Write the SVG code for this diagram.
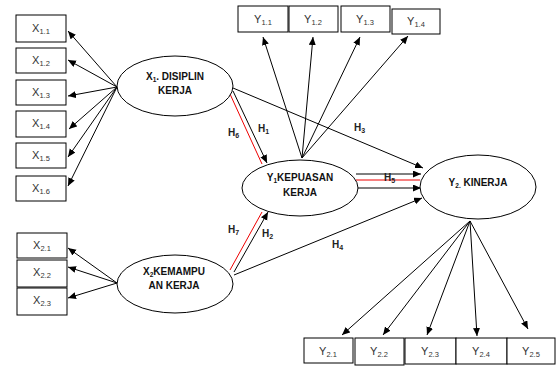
<svg xmlns="http://www.w3.org/2000/svg" width="556" height="366" viewBox="0 0 556 366">
<defs>
<marker id="ah" markerUnits="userSpaceOnUse" markerWidth="9" markerHeight="8" refX="8" refY="3.5" orient="auto">
<path d="M0,0 L8,3.5 L0,7 z" fill="#000"/>
</marker>
<style>
.box{fill:#fff;stroke:#000;stroke-width:1}
.ell{fill:#fff;stroke:#000;stroke-width:1}
.bt{font-family:"Liberation Sans",Arial,sans-serif;font-size:11px;fill:#333;text-anchor:middle}
.et{font-family:"Liberation Sans",Arial,sans-serif;font-size:10px;font-weight:bold;fill:#111;text-anchor:middle}
.ht{font-family:"Liberation Sans",Arial,sans-serif;font-size:10px;font-weight:bold;fill:#222}
.ln{stroke:#000;stroke-width:1;fill:none}
.arr{stroke:#000;stroke-width:1;fill:none;marker-end:url(#ah)}
.red{stroke:#e00;stroke-width:1;fill:none}
</style>
</defs>
<rect width="556" height="366" fill="#fff"/>

<g id="connectors">
<line class="arr" x1="117" y1="87" x2="68" y2="31"/>
<line class="arr" x1="117" y1="87" x2="68" y2="60"/>
<line class="arr" x1="117" y1="87" x2="68" y2="96"/>
<line class="arr" x1="117" y1="87" x2="69" y2="129"/>
<line class="arr" x1="117" y1="87" x2="68" y2="157"/>
<line class="arr" x1="117" y1="87" x2="68" y2="186"/>
<line class="arr" x1="117" y1="283" x2="68" y2="248"/>
<line class="arr" x1="117" y1="283" x2="68" y2="267"/>
<line class="arr" x1="117" y1="283" x2="68" y2="298"/>
<line class="arr" x1="302" y1="158" x2="263" y2="37"/>
<line class="arr" x1="302" y1="158" x2="313" y2="37"/>
<line class="arr" x1="302" y1="158" x2="360" y2="37"/>
<line class="arr" x1="302" y1="158" x2="408" y2="36"/>
<line class="arr" x1="470" y1="221" x2="342" y2="335"/>
<line class="arr" x1="470" y1="221" x2="383" y2="335"/>
<line class="arr" x1="470" y1="221" x2="427" y2="335"/>
<line class="arr" x1="470" y1="221" x2="477" y2="336"/>
<line class="arr" x1="470" y1="221" x2="528" y2="329"/>
<line class="red" x1="230" y1="94" x2="262" y2="164"/>
<line class="arr" x1="233" y1="91" x2="267" y2="163"/>
<line class="arr" x1="233" y1="88" x2="423" y2="168"/>
<line class="arr" x1="356" y1="174" x2="421" y2="174"/>
<line class="red" x1="356" y1="180" x2="420" y2="180"/>
<line class="arr" x1="356" y1="188" x2="421" y2="188"/>
<line class="red" x1="230" y1="270" x2="262" y2="212"/>
<line class="arr" x1="234" y1="272" x2="268" y2="212"/>
<line class="arr" x1="234" y1="275" x2="422" y2="198"/>
</g>

<g id="hypothesis-labels">
<text class="ht" x="258" y="132">H<tspan font-size="7" dy="2">1</tspan></text>
<text class="ht" x="228" y="136">H<tspan font-size="7" dy="2">6</tspan></text>
<text class="ht" x="354" y="131">H<tspan font-size="7" dy="2">3</tspan></text>
<text class="ht" x="384" y="181">H<tspan font-size="7" dy="2">5</tspan></text>
<text class="ht" x="228" y="233">H<tspan font-size="7" dy="2">7</tspan></text>
<text class="ht" x="262" y="237">H<tspan font-size="7" dy="2">2</tspan></text>
<text class="ht" x="332" y="248">H<tspan font-size="7" dy="2">4</tspan></text>
</g>

<g id="X1">
<ellipse class="ell" cx="175" cy="86" rx="58" ry="30"/>
<text class="et" x="175" y="80">X<tspan font-size="6.5" dy="2">1</tspan><tspan dy="-2">. DISIPLIN</tspan></text>
<text class="et" x="175" y="94">KERJA</text>
</g>
<g id="X2">
<ellipse class="ell" cx="175" cy="284" rx="58" ry="29"/>
<text class="et" x="174" y="275">X<tspan font-size="6.5" dy="2">2</tspan><tspan dy="-2">KEMAMPU</tspan></text>
<text class="et" x="174" y="289">AN KERJA</text>
</g>
<g id="Y1">
<ellipse class="ell" cx="300" cy="188" rx="58" ry="28"/>
<text class="et" x="300" y="181">Y<tspan font-size="6.5" dy="2">1</tspan><tspan dy="-2">KEPUASAN</tspan></text>
<text class="et" x="300" y="196">KERJA</text>
</g>
<g id="Y2">
<ellipse class="ell" cx="478" cy="187" rx="58" ry="32"/>
<text class="et" x="478" y="186">Y<tspan font-size="6.5" dy="2">2.</tspan><tspan dy="-2"> KINERJA</tspan></text>
</g>

<g id="X1.1"><rect class="box" x="16" y="15" width="50" height="27"/><text class="bt" x="41" y="32">X<tspan font-size="7.5" dy="2">1.1</tspan></text></g>
<g id="X1.2"><rect class="box" x="16" y="48" width="50" height="25"/><text class="bt" x="41" y="64">X<tspan font-size="7.5" dy="2">1.2</tspan></text></g>
<g id="X1.3"><rect class="box" x="16" y="80" width="50" height="25"/><text class="bt" x="41" y="96">X<tspan font-size="7.5" dy="2">1.3</tspan></text></g>
<g id="X1.4"><rect class="box" x="16" y="111" width="50" height="26"/><text class="bt" x="41" y="127">X<tspan font-size="7.5" dy="2">1.4</tspan></text></g>
<g id="X1.5"><rect class="box" x="16" y="143" width="50" height="25"/><text class="bt" x="41" y="159">X<tspan font-size="7.5" dy="2">1.5</tspan></text></g>
<g id="X1.6"><rect class="box" x="16" y="176" width="50" height="25"/><text class="bt" x="41" y="192">X<tspan font-size="7.5" dy="2">1.6</tspan></text></g>

<g id="X2.1"><rect class="box" x="17" y="233" width="50" height="25"/><text class="bt" x="42" y="249">X<tspan font-size="7.5" dy="2">2.1</tspan></text></g>
<g id="X2.2"><rect class="box" x="17" y="260" width="50" height="27"/><text class="bt" x="42" y="276">X<tspan font-size="7.5" dy="2">2.2</tspan></text></g>
<g id="X2.3"><rect class="box" x="17" y="288" width="50" height="27"/><text class="bt" x="42" y="304">X<tspan font-size="7.5" dy="2">2.3</tspan></text></g>

<g id="Y1.1"><rect class="box" x="238" y="6" width="50" height="26"/><text class="bt" x="263" y="23">Y<tspan font-size="7.5" dy="2">1.1</tspan></text></g>
<g id="Y1.2"><rect class="box" x="289" y="6" width="49" height="26"/><text class="bt" x="313" y="23">Y<tspan font-size="7.5" dy="2">1.2</tspan></text></g>
<g id="Y1.3"><rect class="box" x="341" y="6" width="49" height="26"/><text class="bt" x="365" y="23">Y<tspan font-size="7.5" dy="2">1.3</tspan></text></g>
<g id="Y1.4"><rect class="box" x="392" y="9" width="48" height="25"/><text class="bt" x="416" y="25">Y<tspan font-size="7.5" dy="2">1.4</tspan></text></g>

<g id="Y2.1"><rect class="box" x="304" y="338" width="49" height="25"/><text class="bt" x="328" y="355">Y<tspan font-size="7.5" dy="2">2.1</tspan></text></g>
<g id="Y2.2"><rect class="box" x="355" y="338" width="49" height="27"/><text class="bt" x="379" y="355">Y<tspan font-size="7.5" dy="2">2.2</tspan></text></g>
<g id="Y2.3"><rect class="box" x="405" y="338" width="51" height="26"/><text class="bt" x="430" y="355">Y<tspan font-size="7.5" dy="2">2.3</tspan></text></g>
<g id="Y2.4"><rect class="box" x="456" y="338" width="51" height="26"/><text class="bt" x="481" y="355">Y<tspan font-size="7.5" dy="2">2.4</tspan></text></g>
<g id="Y2.5"><rect class="box" x="507" y="338" width="48" height="26"/><text class="bt" x="531" y="355">Y<tspan font-size="7.5" dy="2">2.5</tspan></text></g>
</svg>
